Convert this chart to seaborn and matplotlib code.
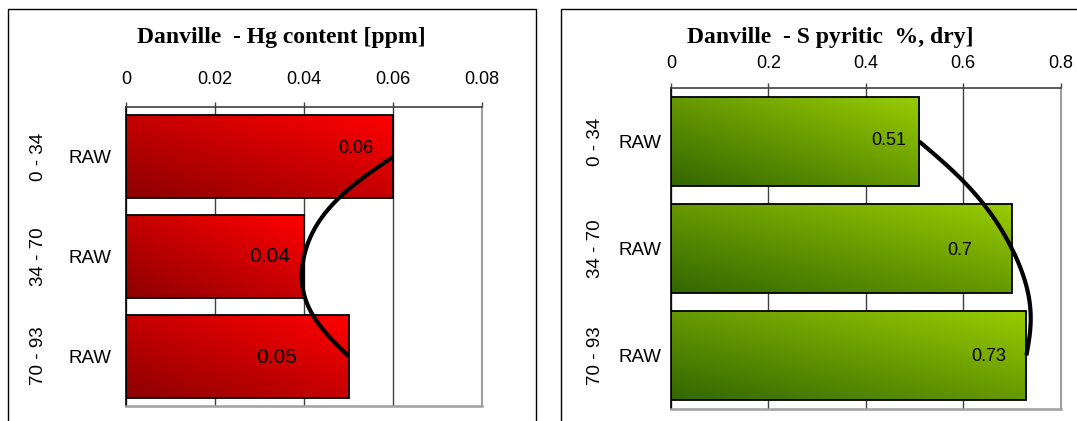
import numpy as np
import matplotlib
matplotlib.use("Agg")
import matplotlib.pyplot as plt
from matplotlib.patches import Rectangle
from matplotlib.transforms import blended_transform_factory
import pandas as pd
import seaborn as sns

# ---- data -------------------------------------------------------------
depth_ranges = ["0 - 34", "34 - 70", "70 - 93"]
sample_type = ["RAW", "RAW", "RAW"]
hg_ppm = [0.06, 0.04, 0.05]
s_pyritic = [0.51, 0.70, 0.73]
hg_ticks = [0, 0.02, 0.04, 0.06, 0.08]
s_ticks = [0, 0.2, 0.4, 0.6, 0.8]
hg_title = "Danville  - Hg content [ppm]"
s_title = "Danville  - S pyritic  %, dry]"

sns.set_style("white")
plt.rcParams["font.family"] = ["Liberation Sans", "DejaVu Sans"]
plt.rcParams["text.color"] = "black"
plt.rcParams["xtick.labelcolor"] = "black"
plt.rcParams["ytick.labelcolor"] = "black"

fig = plt.figure(figsize=(10.77, 4.21), dpi=100)
W, H = 1077, 421


def fx(px):
    return px / W


def fy(py):
    return 1 - py / H


def smooth_curve(xs, ys, n=80, tension=1.4):
    """Cubic Hermite spline: Catmull-Rom tangents inside, natural ends."""
    pts = np.column_stack([xs, ys]).astype(float)
    k = len(pts)
    m = np.zeros_like(pts)
    for i in range(1, k - 1):
        m[i] = tension * (pts[i + 1] - pts[i - 1]) / 2
    m[0] = (3 * (pts[1] - pts[0]) - m[1]) / 2
    m[-1] = (3 * (pts[-1] - pts[-2]) - m[-2]) / 2
    out = []
    t = np.linspace(0, 1, n)[:, None]
    h00 = 2 * t**3 - 3 * t**2 + 1
    h10 = t**3 - 2 * t**2 + t
    h01 = -2 * t**3 + 3 * t**2
    h11 = t**3 - t**2
    for i in range(k - 1):
        out.append(h00 * pts[i] + h10 * m[i] + h01 * pts[i + 1] + h11 * m[i + 1])
    seg = np.vstack(out)
    return seg[:, 0], seg[:, 1]


def draw_panel(rect, box, values, ticks, title, title_xy, dark, bright,
               tick_pad, raw_pad, range_x, sep_len, label_offsets, label_sizes):
    # panel frame
    fig.add_artist(Rectangle((box[0], box[1]), box[2], box[3],
                             transform=fig.transFigure, fill=False,
                             edgecolor="black", lw=1.0, clip_on=False))
    ax = fig.add_axes(rect)
    df = pd.DataFrame({"depth": depth_ranges, "value": values})
    sns.barplot(data=df, x="value", y="depth", orient="h", ax=ax,
                width=0.83, color=bright, edgecolor="black", linewidth=1.3)

    # diagonal gradient fill inside every bar
    u = np.linspace(0, 1, 200)[None, :]
    r = np.linspace(0, 1, 60)[:, None]
    t = (u + (1 - r)) / 2
    dark = np.array(dark)[None, None, :]
    bright = np.array(bright)[None, None, :]
    img = dark + t[..., None] * (bright - dark)
    for p in ax.patches:
        x0, y0, w, h = p.get_x(), p.get_y(), p.get_width(), p.get_height()
        im = ax.imshow(img, extent=(x0, x0 + w, y0 + h, y0), origin="upper",
                       aspect="auto", zorder=1.5, interpolation="bilinear")
        im.set_clip_path(p)
        p.set_facecolor("none")
        p.set_zorder(2)

    ax.set_xlim(ticks[0], ticks[-1])
    ax.set_ylim(2.5, -0.5)
    ax.set_xlabel("")
    ax.set_ylabel("")

    # x axis on top
    ax.xaxis.tick_top()
    ax.set_xticks(ticks)
    ax.set_xticklabels([f"{v:g}" for v in ticks], fontsize=13)
    ax.tick_params(axis="x", which="major", top=True, bottom=False,
                   length=3.6, width=1, color="#404040", pad=tick_pad)
    ax.set_axisbelow(True)
    ax.xaxis.grid(True, color="#404040", lw=1.0)
    ax.yaxis.grid(False)

    # category axis: sample labels plus long separator ticks
    ax.set_yticks(range(len(depth_ranges)))
    ax.set_yticklabels(sample_type, fontsize=13.5)
    ax.tick_params(axis="y", which="major", length=0, pad=raw_pad)
    ax.set_yticks([-0.5, 0.5, 1.5, 2.5], minor=True)
    ax.tick_params(axis="y", which="minor", length=sep_len, width=1,
                   color="black", direction="out")

    for side in ["top", "right", "bottom", "left"]:
        ax.spines[side].set_visible(True)
    ax.spines["left"].set_color("black")
    ax.spines["left"].set_linewidth(1.2)
    ax.spines["top"].set_color("#404040")
    ax.spines["top"].set_linewidth(1.2)
    ax.spines["right"].set_color("#a0a0a0")
    ax.spines["right"].set_linewidth(1.5)
    ax.spines["bottom"].set_color("#a0a0a0")
    ax.spines["bottom"].set_linewidth(1.8)

    trans = blended_transform_factory(ax.transAxes, ax.transData)
    for i, lab in enumerate(depth_ranges):
        ax.text(range_x, i, lab, transform=trans, rotation=90,
                ha="center", va="center", fontsize=13.5)

    # value labels
    for i, v in enumerate(values):
        dx, dy = label_offsets[i]
        ax.annotate(f"{v:g}", xy=(v, i), xytext=(dx, dy),
                    textcoords="offset points", ha="center", va="center",
                    fontsize=label_sizes[i], zorder=4)

    # smoothed trend line through the bar ends
    cx, cy = smooth_curve(values, np.arange(len(values)))
    ax.plot(cx, cy, color="black", lw=3.0, zorder=3, clip_on=False,
            solid_capstyle="butt")

    fig.text(title_xy[0], title_xy[1], title, ha="center", va="center",
             fontsize=17, fontweight="bold",
             family=["Liberation Serif", "DejaVu Serif"])
    return ax


draw_panel(rect=[fx(126), fy(406), fx(482) - fx(126), fy(107) - fy(406)],
           box=(fx(7.6), -0.05, fx(536) - fx(7.6), fy(9) + 0.05),
           values=hg_ppm, ticks=hg_ticks, title=hg_title,
           title_xy=(fx(281), fy(38)),
           dark=(0.55, 0.0, 0.0), bright=(1.0, 0.0, 0.0),
           tick_pad=9.8, raw_pad=10.8, range_x=-0.245, sep_len=75,
           label_offsets=[(-26.6, 6), (-24.8, 0), (-51.5, -0.7)],
           label_sizes=[13, 15, 15])

draw_panel(rect=[fx(671), fy(409), fx(1060.5) - fx(671), fy(88) - fy(409)],
           box=(fx(560.5), -0.05, 0.6, fy(9) + 0.05),
           values=s_pyritic, ticks=s_ticks, title=s_title,
           title_xy=(fx(830), fy(38)),
           dark=(0.2, 0.4, 0.0), bright=(0.6, 0.8, 0.0),
           tick_pad=7.6, raw_pad=6.8, range_x=-0.195, sep_len=67.7,
           label_offsets=[(-22.3, 0.4), (-37.4, -1.4), (-27, -1)],
           label_sizes=[13, 13, 13])

fig.savefig("out.png", dpi=100)
